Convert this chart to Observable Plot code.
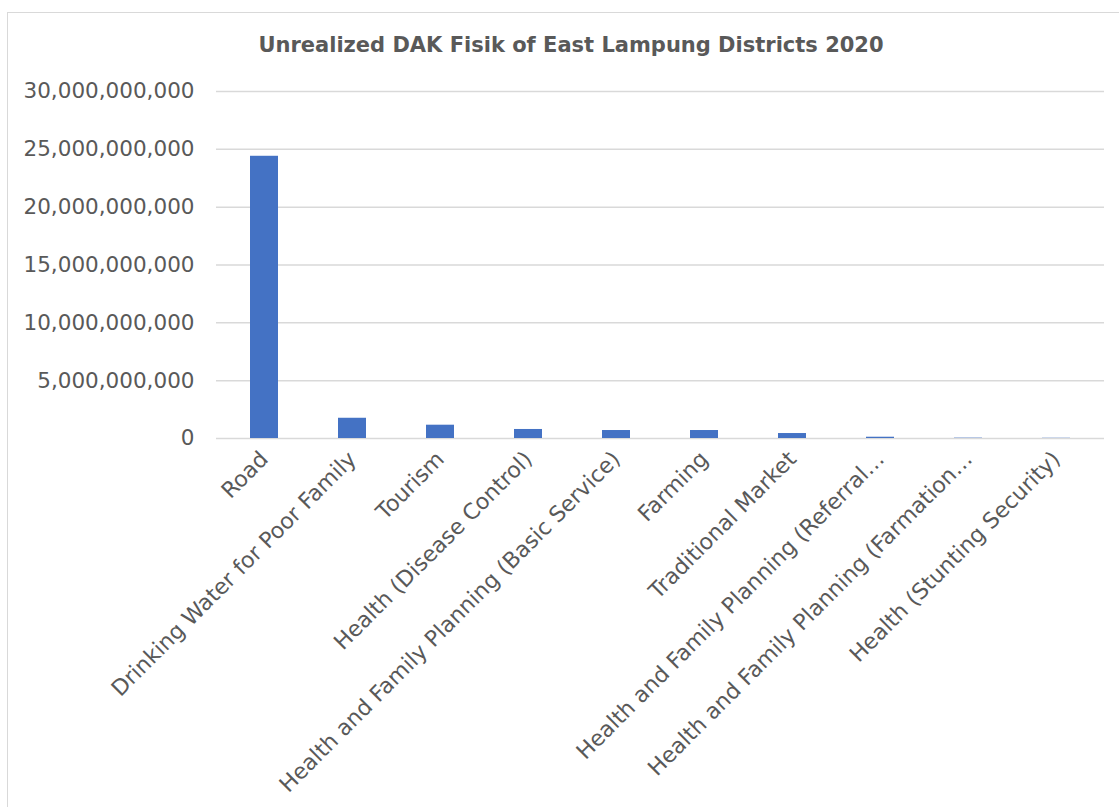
<!DOCTYPE html>
<html>
<head>
<meta charset="utf-8">
<script src="https://cdn.jsdelivr.net/npm/d3@7"></script>
<script src="https://cdn.jsdelivr.net/npm/@observablehq/plot@0.6"></script>
<style>
  body { margin: 0; background: #fff; font-family: "DejaVu Sans", Verdana, sans-serif; }
  #wrap { position: relative; width: 1119px; height: 807px; overflow: hidden; }
  #frame { position: absolute; left: 7px; top: 12px; width: 1130px; height: 820px; border: 1.5px solid #d9d9d9; box-sizing: border-box; }
  #title { position: absolute; left: 0; width: 1142px; top: 33px; text-align: center; font-weight: bold; font-size: 21px; color: #595959; }
  #chart { position: absolute; left: 0; top: 0; }
</style>
</head>
<body>
<div id="wrap">
  <div id="frame"></div>
  <div id="title">Unrealized DAK Fisik of East Lampung Districts 2020</div>
  <div id="chart"></div>
</div>
<script>
const categories = [
  "Road",
  "Drinking Water for Poor Family",
  "Tourism",
  "Health (Disease Control)",
  "Health and Family Planning (Basic Service)",
  "Farming",
  "Traditional Market",
  "Health and Family Planning (Referral…",
  "Health and Family Planning (Farmation…",
  "Health (Stunting Security)"
];
const values = [24400000000, 1750000000, 1150000000, 780000000, 690000000, 690000000, 430000000, 110000000, 30000000, 20000000];
const yTicks = [0, 5000000000, 10000000000, 15000000000, 20000000000, 25000000000, 30000000000];

const data = categories.map((c, i) => ({category: c, value: values[i]}));

const chart = Plot.plot({
  width: 1119,
  height: 807,
  marginLeft: 216,
  marginRight: 15,
  marginTop: 91,
  marginBottom: 369,
  style: { fontFamily: "DejaVu Sans, Verdana, sans-serif", color: "#595959", background: "transparent" },
  x: { domain: categories, paddingInner: 0.68, paddingOuter: 0.34, label: null },
  y: { domain: [0, 30000000000], label: null },
  marks: [
    Plot.gridY(yTicks, { stroke: "#d9d9d9", strokeOpacity: 1, strokeWidth: 1.5 }),
    Plot.barY(data, { x: "category", y: "value", fill: "#4472C4" }),
    Plot.axisY({ ticks: yTicks, tickFormat: d3.format(","), tickSize: 0, tickPadding: 22, fontSize: 21.5, label: null }),
    Plot.axisX({ tickSize: 0, tickRotate: -45, tickPadding: 17, fontSize: 22, label: null, textAnchor: "end" })
  ]
});
document.getElementById("chart").appendChild(chart);
</script>
</body>
</html>
